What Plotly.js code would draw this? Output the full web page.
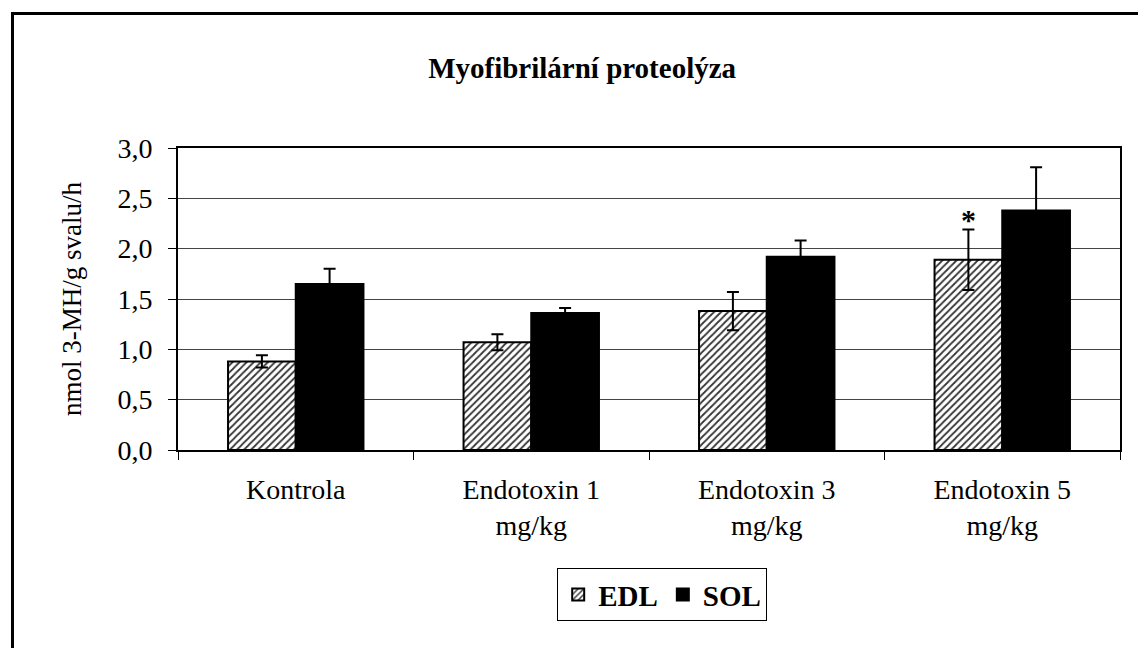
<!DOCTYPE html>
<html>
<head>
<meta charset="utf-8">
<script src="https://cdn.plot.ly/plotly-3.0.1.min.js"></script>
<style>
  html, body { margin: 0; padding: 0; background: #fff; }
  #chart { width: 1138px; height: 648px; }
</style>
</head>
<body>
<div id="chart"></div>
<script>
var categories = ['Kontrola', 'Endotoxin 1<br>mg/kg', 'Endotoxin 3<br>mg/kg', 'Endotoxin 5<br>mg/kg'];
var edlValues = [0.88, 1.07, 1.38, 1.89];
var edlErrors = [0.06, 0.08, 0.19, 0.30];
var solValues = [1.65, 1.36, 1.92, 2.38];
var solErrors = [0.15, 0.05, 0.16, 0.43];
var yTicks = [0, 0.5, 1, 1.5, 2, 2.5, 3];

var serif = 'Liberation Serif';
var bargap = 0.425;
var barHalf = (1 - bargap) / 4;

var edl = {
    x: categories, y: edlValues, name: 'EDL', type: 'bar',
    marker: {
        color: '#fff',
        line: {color: '#000', width: 2},
        pattern: {shape: '/', size: 5, solidity: 0.35, fgcolor: '#333', bgcolor: '#fff', fillmode: 'replace'}
    },
    error_y: {type: 'data', array: edlErrors, visible: true, color: '#000', thickness: 2, width: 6}
};
var sol = {
    x: categories, y: solValues, name: 'SOL', type: 'bar',
    marker: {color: '#000', line: {color: '#000', width: 2}},
    error_y: {type: 'data', array: solErrors, visible: true, color: '#000', thickness: 2, width: 6}
};

var layout = {
    width: 1138, height: 648,
    margin: {l: 178, r: 18, t: 148, b: 198},
    paper_bgcolor: '#fff', plot_bgcolor: '#fff',
    font: {family: serif, color: '#000', size: 28},
    separators: ',.',
    barmode: 'group', bargap: bargap, bargroupgap: 0,
    showlegend: true,
    title: {text: '<b>Myofibrilární proteolýza</b>', font: {size: 29, family: serif}, x: 0.429, xref: 'paper', xanchor: 'center', y: 0.895, yanchor: 'middle'},
    xaxis: {
        type: 'category', showgrid: false,
        showline: true, linecolor: '#000', linewidth: 2, mirror: true,
        ticks: 'outside', tickson: 'boundaries', ticklen: 8, tickcolor: '#000', tickwidth: 1,
        ticklabelstandoff: 13,
        tickfont: {size: 28, family: serif}
    },
    yaxis: {
        range: [0, 3], tickvals: yTicks, tickformat: '.1f',
        showgrid: true, gridcolor: '#444', gridwidth: 1,
        showline: true, linecolor: '#000', linewidth: 2, mirror: true,
        ticks: 'outside', ticklen: 8, tickcolor: '#000', tickwidth: 1,
        ticklabelstandoff: 10,
        zeroline: false,
        tickfont: {size: 28, family: serif},
        title: {text: 'nmol 3-MH/g svalu/h', font: {size: 27, family: serif}, standoff: 28}
    },
    legend: {
        orientation: 'h', x: 0.514, xanchor: 'center', y: -0.391, yanchor: 'top',
        bordercolor: '#000', borderwidth: 1, bgcolor: '#fff',
        font: {size: 29, family: serif, weight: 'bold'},
        itemwidth: 30, tracegroupgap: 0
    },
    annotations: [{
        x: 3 - barHalf, y: edlValues[3] + edlErrors[3], xref: 'x', yref: 'y',
        text: '<b>*</b>', showarrow: false, yanchor: 'bottom', yshift: -8,
        font: {size: 30, family: serif}
    }],
    shapes: [
        {type: 'line', xref: 'paper', yref: 'paper', x0: -0.1757, x1: -0.1757, y0: 1.45, y1: -0.75, line: {color: '#000', width: 3}},
        {type: 'line', xref: 'paper', yref: 'paper', x0: -0.1757, x1: 1.05, y0: 1.445, y1: 1.445, line: {color: '#000', width: 3}}
    ]
};

Plotly.newPlot('chart', [edl, sol], layout, {displayModeBar: false, staticPlot: true});
</script>
</body>
</html>
